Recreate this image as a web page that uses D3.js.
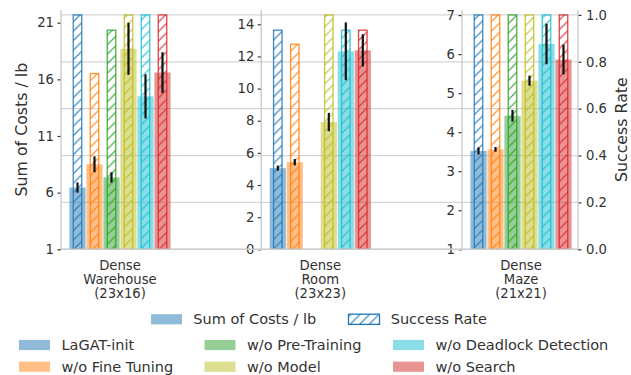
<!DOCTYPE html>
<html><head><meta charset="utf-8">
<script src="https://cdn.jsdelivr.net/npm/d3@7"></script>
<style>body{margin:0;background:#fff;} svg{display:block;font-family:"DejaVu Sans",sans-serif;}</style>
</head><body>
<svg id="chart" width="631" height="375"></svg>
<script>
const categories = [["Dense","Warehouse","(23x16)"],["Dense","Room","(23x23)"],["Dense","Maze","(21x21)"]];
const methods = ["LaGAT-init","w/o Fine Tuning","w/o Pre-Training","w/o Model","w/o Deadlock Detection","w/o Search"];
const colors = ["#1f77b4","#ff7f0e","#2ca02c","#bcbd22","#17becf","#d62728"];
const costWarehouse = [6.45, 8.5, 7.35, 18.7, 14.5, 16.6];
const costWarehouseErr = [0.45, 0.7, 0.45, 2.3, 1.95, 1.8];
const costRoom = [5.05, 5.42, null, 7.92, 12.32, 12.38];
const costRoomErr = [0.16, 0.2, null, 0.57, 1.8, 1.0];
const costMaze = [3.52, 3.56, 4.42, 5.32, 6.26, 5.86];
const costMazeErr = [0.09, 0.06, 0.15, 0.13, 0.52, 0.38];
const srWarehouse = [1.0, 0.75, 0.935, 1.0, 1.0, 1.0];
const srRoom = [0.935, 0.875, 0, 1.0, 0.935, 0.935];
const srMaze = [1.0, 1.0, 1.0, 1.0, 1.0, 1.0];
const costTicks = [[1,6,11,16,21],[0,2,4,6,8,10,12,14],[1,2,3,4,5,6,7]];
const costDomains = [[1,22.12],[0,14.89],[1,7.13]];
const srTicks = [0,0.2,0.4,0.6,0.8,1.0];
const legendTop = ["Sum of Costs / lb","Success Rate"];

(function(){
const panels = [
  {cost:costWarehouse, err:costWarehouseErr, sr:srWarehouse},
  {cost:costRoom, err:costRoomErr, sr:srRoom},
  {cost:costMaze, err:costMazeErr, sr:srMaze}
];

const svg = d3.select("#chart");
const yTop = 10, yBot = 249.3;
const x0s = [61, 261.3, 462];
const pw = 116;
const tickFont = 13.2, labelFont = 15.8, legFont = 14.5;
const txt = "#333";
const spine = "#cccccc";

const defs = svg.append("defs");
colors.forEach((c,i)=>{
  const s = 9.5;
  const p = defs.append("pattern").attr("id","h"+i).attr("patternUnits","userSpaceOnUse")
    .attr("width",s).attr("height",s);
  p.append("path").attr("d",`M0,${s} L${s},0 M${-s/2},${s/2} L${s/2},${-s/2} M${s/2},${s*1.5} L${s*1.5},${s/2}`)
    .attr("stroke",c).attr("stroke-width",1.2).attr("stroke-opacity",0.85);
});

const ySR = d3.scaleLinear().domain([0,1.021]).range([yBot,yTop]);

svg.append("g").selectAll("line").data(srTicks).join("line")
  .attr("x1",x0s[0]).attr("x2",x0s[2]+pw)
  .attr("y1",d=>ySR(d)).attr("y2",d=>ySR(d))
  .attr("stroke","#d6d6d6").attr("stroke-width",1.3);

panels.forEach((pd,pi)=>{
  const x0 = x0s[pi];
  const xb = d3.scaleBand().domain(methods).range([x0+8, x0+110]).paddingInner(0);
  const y = d3.scaleLinear().domain(costDomains[pi]).range([yBot, yTop]);
  const g = svg.append("g");
  const bw = xb.bandwidth();
  methods.forEach((m,i)=>{
    const v = pd.cost[i];
    if (v == null) return;
    g.append("rect").attr("x", xb(m)+ (bw-16.2)/2).attr("width",16.2)
      .attr("y", y(v)).attr("height", y(costDomains[pi][0]) - y(v))
      .attr("fill", colors[i]).attr("fill-opacity",0.5);
  });
  methods.forEach((m,i)=>{
    const v = pd.sr[i];
    if (!v) return;
    const hw = 8.5;
    g.append("rect").attr("x", xb(m)+(bw-hw)/2).attr("width",hw)
      .attr("y", ySR(v)).attr("height", ySR(0)-ySR(v))
      .attr("fill","url(#h"+i+")").attr("stroke",colors[i]).attr("stroke-width",1.3).attr("stroke-opacity",0.85);
  });
  methods.forEach((m,i)=>{
    const v = pd.cost[i];
    if (v == null) return;
    const cx = xb(m)+bw/2;
    g.append("line").attr("x1",cx).attr("x2",cx)
      .attr("y1",y(v-pd.err[i])).attr("y2",y(v+pd.err[i]))
      .attr("stroke","#111").attr("stroke-width",2.2);
  });
  const ax = d3.axisLeft(y).tickValues(costTicks[pi]).tickSize(3.5).tickPadding(3.5).tickFormat(d3.format("d"));
  const ag = svg.append("g").attr("transform",`translate(${x0},0)`).call(ax);
  ag.select(".domain").remove();
  ag.selectAll(".tick line").attr("stroke","#333").attr("stroke-width",1.2);
  ag.selectAll(".tick text").attr("fill",txt).attr("font-size",tickFont).attr("font-family","DejaVu Sans");
  svg.append("line").attr("x1",x0).attr("x2",x0).attr("y1",yTop).attr("y2",yBot)
    .attr("stroke",spine).attr("stroke-width",1.4);
  const cx = x0 + 59;
  const t = svg.append("text").attr("text-anchor","middle").attr("fill",txt).attr("font-size",tickFont);
  categories[pi].forEach((line,li)=>{
    t.append("tspan").attr("x",cx).attr("y",269.5 + li*14.2).text(line);
  });
});

svg.append("line").attr("x1",x0s[0]).attr("x2",x0s[2]+pw).attr("y1",yBot).attr("y2",yBot)
  .attr("stroke",spine).attr("stroke-width",1.4);
const rx = x0s[2]+pw;
const rax = d3.axisRight(ySR).tickValues(srTicks).tickSize(3.5).tickPadding(4.5).tickFormat(d3.format(".1f"));
const rg = svg.append("g").attr("transform",`translate(${rx},0)`).call(rax);
rg.select(".domain").remove();
rg.selectAll(".tick line").attr("stroke","#333").attr("stroke-width",1.2);
rg.selectAll(".tick text").attr("fill",txt).attr("font-size",tickFont).attr("font-family","DejaVu Sans");
svg.append("line").attr("x1",rx).attr("x2",rx).attr("y1",yTop).attr("y2",yBot)
  .attr("stroke",spine).attr("stroke-width",1.4);

svg.append("text").attr("transform",`translate(27,${(yTop+yBot)/2}) rotate(-90)`)
  .attr("text-anchor","middle").attr("fill",txt).attr("font-size",labelFont).text("Sum of Costs / lb");
svg.append("text").attr("transform",`translate(627,${(yTop+yBot)/2}) rotate(-90)`)
  .attr("text-anchor","middle").attr("fill",txt).attr("font-size",labelFont).text("Success Rate");

const lg = svg.append("g");
const pwid = 31, ph = 10.2;
lg.append("rect").attr("x",151).attr("y",324.3-5-ph/2).attr("width",pwid).attr("height",ph)
  .attr("fill",colors[0]).attr("fill-opacity",0.5);
lg.append("text").attr("x",193.3).attr("y",324.3).attr("fill",txt).attr("font-size",legFont).text(legendTop[0]);
lg.append("rect").attr("x",348.5).attr("y",324.3-5-ph/2).attr("width",pwid).attr("height",ph)
  .attr("fill","url(#h0)").attr("stroke",colors[0]).attr("stroke-width",1.3);
lg.append("text").attr("x",390.7).attr("y",324.3).attr("fill",txt).attr("font-size",legFont).text(legendTop[1]);

const colX = [19, 204.5, 393];
const rowY = [350, 371.7];
methods.forEach((m,i)=>{
  const col = Math.floor(i/2), row = i%2;
  const bx = colX[col], by = rowY[row];
  lg.append("rect").attr("x",bx).attr("y",by-5-ph/2).attr("width",pwid).attr("height",ph)
    .attr("fill",colors[i]).attr("fill-opacity",0.5);
  lg.append("text").attr("x",bx+42.5).attr("y",by).attr("fill",txt).attr("font-size",legFont).text(m);
});
})();
</script>
</body></html>
